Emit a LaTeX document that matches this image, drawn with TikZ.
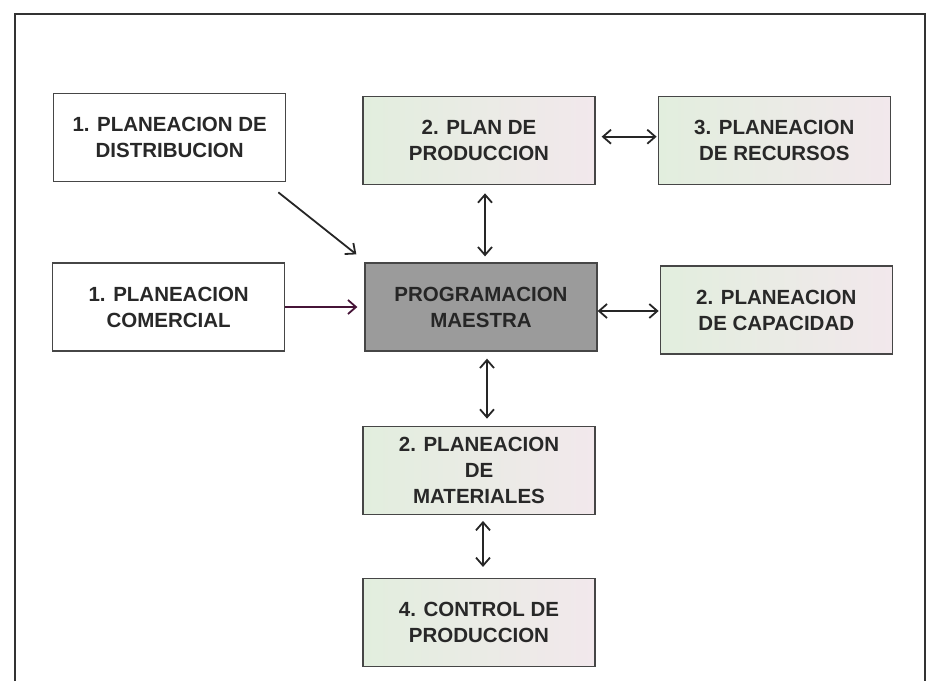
\documentclass[tikz,border=0pt]{standalone}
\usepackage{fontspec}
\setmainfont{Liberation Sans}
\usetikzlibrary{positioning,arrows.meta}
\definecolor{inkgray}{RGB}{40,40,40}
\definecolor{edgegray}{RGB}{70,70,70}
\definecolor{mastergray}{RGB}{155,155,155}
\definecolor{paleleft}{RGB}{226,238,222}
\definecolor{paleright}{RGB}{242,232,236}
\definecolor{darkplum}{RGB}{70,20,55}
\begin{document}
\begin{tikzpicture}[x=1pt,y=-1pt,
   box/.style={align=center,draw=edgegray,line width=1.3pt,fill=white,text=inkgray,minimum width=232pt,minimum height=88pt,inner sep=0,font=\fontsize{20.5}{26}\selectfont\bfseries},
   palebox/.style={box,left color=paleleft,right color=paleright},
   masterbox/.style={box,fill=mastergray,text=black!85},
   link/.style={line width=1.8pt,black!85,{Straight Barb[length=8pt,width=14pt]}-{Straight Barb[length=8pt,width=14pt]}},
   feed/.style={line width=1.8pt,black!85,-{Straight Barb[length=8pt,width=14pt]}}
  ]
  \useasboundingbox (0,0) rectangle (930,681);
  % outer frame, open at the bottom
  \draw[line width=1.6pt,black!80] (15,681) -- (15,14) -- (925,14) -- (925,681);
  \node[masterbox] (prog) at (481,307) {PROGRAMACION\\MAESTRA};
  \node[palebox, above=77pt of prog, xshift=-2pt] (plan) {2. PLAN DE\\PRODUCCION};
  \node[palebox, right=62pt of plan] (rec) {3. PLANEACION\\DE RECURSOS};
  \node[box, left=76pt of plan, yshift=3pt] (dist) {1. PLANEACION DE\\DISTRIBUCION};
  \node[box, left=79pt of prog] (com) {1. PLANEACION\\COMERCIAL};
  \node[palebox, right=62pt of prog, yshift=-3pt] (cap) {2. PLANEACION\\DE CAPACIDAD};
  \node[palebox, below=74pt of prog, xshift=-2pt] (mat) {2. PLANEACION\\DE\\MATERIALES};
  \node[palebox, below=63pt of mat] (ctrl) {4. CONTROL DE\\PRODUCCION};
  % connectors
  \draw[feed] ([shift={(-8pt,-10pt)}]dist.south east) -- ([shift={(-8pt,8pt)}]prog.north west);
  \draw[feed, draw=darkplum, shorten >=7pt] (com.east) -- (prog.west);
  \draw[link, shorten <=8pt, shorten >=6pt] ([xshift=6pt]plan.south) -- ([xshift=6pt]plan.south |- prog.north);
  \draw[link, shorten <=6pt, shorten >=1pt] ([yshift=4pt]plan.east) -- ([yshift=4pt]plan.east -| rec.west);
  \draw[link, shorten >=1pt] ([yshift=-4pt]prog.east) -- ([yshift=-4pt]prog.east -| cap.west);
  \draw[link, shorten <=7pt, shorten >=7pt] ([xshift=6pt]prog.south) -- ([xshift=6pt]prog.south |- mat.north);
  \draw[link, shorten <=6pt, shorten >=11pt] ([xshift=4pt]mat.south) -- ([xshift=4pt]mat.south |- ctrl.north);
\end{tikzpicture}
\end{document}
